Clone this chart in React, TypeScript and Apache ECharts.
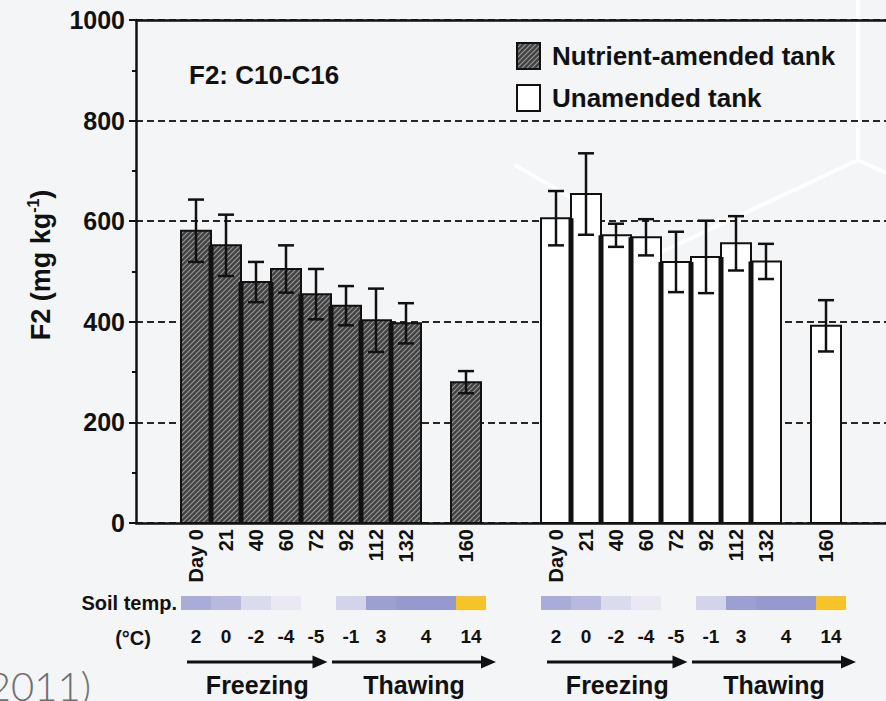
import React, { useEffect, useRef } from 'react';
import * as echarts from 'echarts';

// Sampling days, shared by both tanks
const DAYS = ['Day 0', '21', '40', '60', '72', '92', '112', '132', '160'];
// F2 (C10-C16) concentrations, mg/kg, with standard deviations
const AMENDED = [581, 552, 479, 505, 455, 432, 403, 397, 280];
const AMENDED_SD = [62, 61, 40, 47, 50, 39, 63, 40, 22];
const UNAMENDED = [606, 654, 572, 568, 519, 529, 556, 520, 392];
const UNAMENDED_SD = [54, 81, 23, 36, 60, 72, 54, 35, 51];
const SERIES_NAMES = ['Nutrient-amended tank', 'Unamended tank'];

// Soil temperature (°C) strip under each group
const SOIL_TEMP = ['2', '0', '-2', '-4', '-5', '-1', '3', '4', '14'];
const SOIL_TEMP_SPAN = [1, 1, 1, 1, 1, 1, 1, 2, 1];
const SOIL_TEMP_COLOR = ['#a9acd8', '#b7b9de', '#dbdbee', '#e9e8f3', '', '#d3d3eb', '#9c9fd2', '#9599cf', '#f8c329'];
const SOIL_PHASE = ['Freezing', 'Freezing', 'Freezing', 'Freezing', 'Freezing', 'Thawing', 'Thawing', 'Thawing', 'Thawing'];

const FONT = "'Liberation Sans', Arial, sans-serif";
const INK = '#111111';

// Slots of one group: eight consecutive days, an empty slot, then day 160
const GROUP_SLOTS = [...DAYS.slice(0, 8), '', DAYS[8]];
const groupCats = (p: string) => GROUP_SLOTS.map((d) => p + '|' + d);
const CATS = [' a', ' b', ...groupCats('A'), ' c', ' d', ...groupCats('U'), ' e', ' f'];
const catLabel = (v: string) => (v.includes('|') ? v.split('|')[1] : '');

const seriesData = (p: string, vals: number[], sds: number[]) =>
  DAYS.map((d, i) => [CATS.indexOf(p + '|' + d), vals[i], sds[i]]);

const SEG_START = SOIL_TEMP_SPAN.map((_, i) => SOIL_TEMP_SPAN.slice(0, i).reduce((a, b) => a + b, 0));

function makeHatch(): HTMLCanvasElement {
  const c = document.createElement('canvas');
  const s = 5;
  c.width = s;
  c.height = s;
  const g = c.getContext('2d')!;
  g.fillStyle = '#424242';
  g.fillRect(0, 0, s, s);
  g.strokeStyle = '#9a9a9a';
  g.lineWidth = 1.1;
  g.beginPath();
  g.moveTo(0, s);
  g.lineTo(s, 0);
  g.moveTo(-1, 1);
  g.lineTo(1, -1);
  g.moveTo(s - 1, s + 1);
  g.lineTo(s + 1, s - 1);
  g.stroke();
  return c;
}

export default function App() {
  const ref = useRef<HTMLDivElement>(null);

  useEffect(() => {
    if (!ref.current) return;
    const chart = echarts.init(ref.current, undefined, { renderer: 'svg' });
    const hatch = { image: makeHatch(), repeat: 'repeat' } as any;

    const barSeries = (name: string, data: number[][], fill: any) => ({
      name,
      type: 'custom',
      xAxisIndex: 0,
      yAxisIndex: 0,
      itemStyle: { color: fill, borderColor: INK, borderWidth: 2 },
      data,
      renderItem: (params: any, api: any) => {
        const idx = api.value(0);
        const v = api.value(1);
        const sd = api.value(2);
        const w = api.size([1, 0])[0];
        const [cx, y0] = api.coord([idx, 0]);
        const yTop = api.coord([idx, v])[1];
        const yHi = api.coord([idx, v + sd])[1];
        const yLo = api.coord([idx, v - sd])[1];
        const children: any[] = [
          {
            type: 'rect',
            shape: { x: cx - w / 2, y: yTop, width: w, height: y0 - yTop },
            style: { fill, stroke: INK, lineWidth: 2 },
          },
        ];
        const prev = data[params.dataIndex - 1];
        if (prev && prev[0] === idx - 1) {
          const pTop = api.coord([idx - 1, prev[1]])[1];
          const sTop = Math.max(pTop, yTop);
          children.push({
            type: 'rect',
            shape: { x: cx - w / 2 - 2.5, y: sTop, width: 5, height: y0 - sTop },
            style: { fill: INK },
          });
        }
        const cap = 8;
        children.push(
          { type: 'line', shape: { x1: cx, y1: yHi, x2: cx, y2: yLo }, style: { stroke: INK, lineWidth: 2.5 } },
          { type: 'line', shape: { x1: cx - cap, y1: yHi, x2: cx + cap, y2: yHi }, style: { stroke: INK, lineWidth: 2.5 } },
          { type: 'line', shape: { x1: cx - cap, y1: yLo, x2: cx + cap, y2: yLo }, style: { stroke: INK, lineWidth: 2.5 } }
        );
        return { type: 'group', children };
      },
    });

    const soilData: number[][] = [];
    const phaseData: any[] = [];
    ['A', 'U'].forEach((p) => {
      SOIL_TEMP.forEach((_, i) => {
        soilData.push([CATS.indexOf(p + '|' + GROUP_SLOTS[SEG_START[i]]), 0.5]);
      });
      ['Freezing', 'Thawing'].forEach((ph) => {
        const segs = SOIL_PHASE.map((s, i) => (s === ph ? i : -1)).filter((i) => i >= 0);
        const first = segs[0];
        const last = segs[segs.length - 1];
        const startIdx = CATS.indexOf(p + '|' + GROUP_SLOTS[SEG_START[first]]);
        const endIdx = CATS.indexOf(p + '|' + GROUP_SLOTS[SEG_START[last] + SOIL_TEMP_SPAN[last] - 1]);
        phaseData.push({ value: [startIdx, endIdx], name: ph });
      });
    });

    const option: any = {
      animation: false,
      backgroundColor: '#f4f5f7',
      textStyle: { fontFamily: FONT },
      title: {
        text: 'F2: C10-C16',
        left: 184,
        top: 57,
        textStyle: { fontFamily: FONT, fontSize: 26, fontWeight: 'bold', color: INK },
      },
      legend: {
        orient: 'vertical',
        left: 511,
        top: 37,
        icon: 'rect',
        itemWidth: 23,
        itemHeight: 26,
        itemGap: 14,
        textStyle: { fontFamily: FONT, fontSize: 26, fontWeight: 'bold', color: INK, padding: [0, 0, 0, 7] },
        data: [
          { name: SERIES_NAMES[0], itemStyle: { color: hatch, borderColor: INK, borderWidth: 2 } },
          { name: SERIES_NAMES[1], itemStyle: { color: '#ffffff', borderColor: INK, borderWidth: 2 } },
        ],
      },
      grid: [
        { left: 136, right: -34, top: 20, bottom: 178 },
        { left: 136, right: -34, top: 596, height: 14 },
      ],
      xAxis: [
        {
          type: 'category',
          gridIndex: 0,
          data: CATS,
          boundaryGap: false,
          axisLine: { lineStyle: { color: INK, width: 2.5 } },
          axisTick: { show: false },
          axisLabel: {
            interval: 0,
            rotate: 90,
            margin: 6,
            formatter: catLabel,
            fontFamily: FONT,
            fontSize: 20,
            fontWeight: 'bold',
            color: INK,
          },
          splitLine: { show: false },
        },
        {
          type: 'category',
          gridIndex: 0,
          position: 'top',
          data: CATS,
          boundaryGap: false,
          axisLine: { lineStyle: { color: INK, width: 2.5 } },
          axisTick: { show: false },
          axisLabel: { show: false },
        },
        {
          type: 'category',
          gridIndex: 1,
          data: CATS,
          boundaryGap: false,
          show: false,
        },
      ],
      yAxis: [
        {
          type: 'value',
          gridIndex: 0,
          min: 0,
          max: 1000,
          interval: 200,
          axisLine: { show: true, lineStyle: { color: INK, width: 2.5 } },
          axisTick: { show: true, length: 7, lineStyle: { color: INK, width: 2 } },
          minorTick: { show: true, splitNumber: 2, length: 4, lineStyle: { color: INK, width: 2 } },
          axisLabel: {
            margin: 11,
            formatter: (v: number) => String(v),
            fontFamily: FONT,
            fontSize: 25,
            fontWeight: 'bold',
            color: INK,
          },
          splitLine: { show: true, lineStyle: { color: '#2b2522', width: 2, type: [7, 4] } },
        },
        { type: 'value', gridIndex: 1, min: 0, max: 1, show: false },
      ],
      graphic: [
        {
          type: 'group',
          z: -10,
          silent: true,
          children: [
            { type: 'polyline', shape: { points: [[858, 0], [858, 160], [640, 262]] }, style: { stroke: '#ffffff', lineWidth: 4, fill: null, opacity: 0.85 } },
            { type: 'line', shape: { x1: 858, y1: 160, x2: 886, y2: 173 }, style: { stroke: '#ffffff', lineWidth: 4, opacity: 0.85 } },
            { type: 'line', shape: { x1: 515, y1: 165, x2: 575, y2: 200 }, style: { stroke: '#ffffff', lineWidth: 4, opacity: 0.85 } },
          ],
        },
        {
          type: 'text',
          x: 41,
          y: 265,
          rotation: Math.PI / 2,
          style: {
            text: '{a|F2 (mg kg}{s|-1}{a|)}',
            align: 'center',
            verticalAlign: 'middle',
            rich: {
              a: { fontFamily: FONT, fontSize: 27, fontWeight: 'bold', fill: INK, lineHeight: 32 },
              s: { fontFamily: FONT, fontSize: 16, fontWeight: 'bold', fill: INK, verticalAlign: 'top', lineHeight: 32 },
            },
          },
        },
        {
          type: 'text',
          x: 177,
          y: 603,
          style: { text: 'Soil temp.', align: 'right', verticalAlign: 'middle', font: `bold 20px ${FONT}`, fill: INK },
        },
        {
          type: 'text',
          x: 133,
          y: 638,
          style: { text: '(°C)', align: 'center', verticalAlign: 'middle', font: `bold 20px ${FONT}`, fill: INK },
        },
        {
          type: 'text',
          x: 91,
          y: 686,
          style: { text: '(2011)', align: 'right', verticalAlign: 'middle', font: `300 40px Lato, 'Open Sans', sans-serif`, fill: '#6f6f6f' },
        },
      ],
      series: [
        barSeries(SERIES_NAMES[0], seriesData('A', AMENDED, AMENDED_SD), hatch),
        barSeries(SERIES_NAMES[1], seriesData('U', UNAMENDED, UNAMENDED_SD), '#ffffff'),
        {
          type: 'custom',
          name: 'soil',
          xAxisIndex: 2,
          yAxisIndex: 1,
          data: soilData,
          renderItem: (params: any, api: any) => {
            const i = params.dataIndex % SOIL_TEMP.length;
            const idx = api.value(0);
            const w = api.size([1, 0])[0];
            const [cx, yb] = api.coord([idx, 0]);
            const yt = api.coord([idx, 1])[1];
            const off = SOIL_PHASE[i] === 'Thawing' ? 5 : 0;
            const x0 = cx - w / 2 + off;
            const width = SOIL_TEMP_SPAN[i] * w;
            const children: any[] = [];
            if (SOIL_TEMP_COLOR[i]) {
              children.push({ type: 'rect', shape: { x: x0, y: yt, width, height: yb - yt }, style: { fill: SOIL_TEMP_COLOR[i] } });
            }
            children.push({
              type: 'text',
              x: x0 + width / 2,
              y: yb + 26,
              style: { text: SOIL_TEMP[i], align: 'center', verticalAlign: 'middle', font: `bold 19px ${FONT}`, fill: INK },
            });
            return { type: 'group', children };
          },
        },
        {
          type: 'custom',
          name: 'phase',
          xAxisIndex: 2,
          yAxisIndex: 1,
          data: phaseData,
          renderItem: (params: any, api: any) => {
            const s = api.value(0);
            const e = api.value(1);
            const w = api.size([1, 0])[0];
            const yb = api.coord([s, 0])[1];
            const freezing = phaseData[params.dataIndex].name === 'Freezing';
            const x1 = api.coord([s, 0])[0] - w / 2 + (freezing ? 6 : 1);
            const x2 = api.coord([e, 0])[0] + w / 2 + (freezing ? -3.5 : 15);
            const ay = yb + 52;
            return {
              type: 'group',
              children: [
                { type: 'line', shape: { x1, y1: ay, x2: x2 - 10, y2: ay }, style: { stroke: INK, lineWidth: 3 } },
                { type: 'polygon', shape: { points: [[x2, ay], [x2 - 15, ay - 6.5], [x2 - 15, ay + 6.5]] }, style: { fill: INK } },
                {
                  type: 'text',
                  x: (x1 + x2) / 2,
                  y: yb + 75,
                  style: { text: phaseData[params.dataIndex].name, align: 'center', verticalAlign: 'middle', font: `bold 25px ${FONT}`, fill: INK },
                },
              ],
            };
          },
        },
      ],
    };

    chart.setOption(option);
    return () => chart.dispose();
  }, []);

  return <div ref={ref} style={{ position: 'fixed', left: 0, top: 0, width: 886, height: 701 }} />;
}
